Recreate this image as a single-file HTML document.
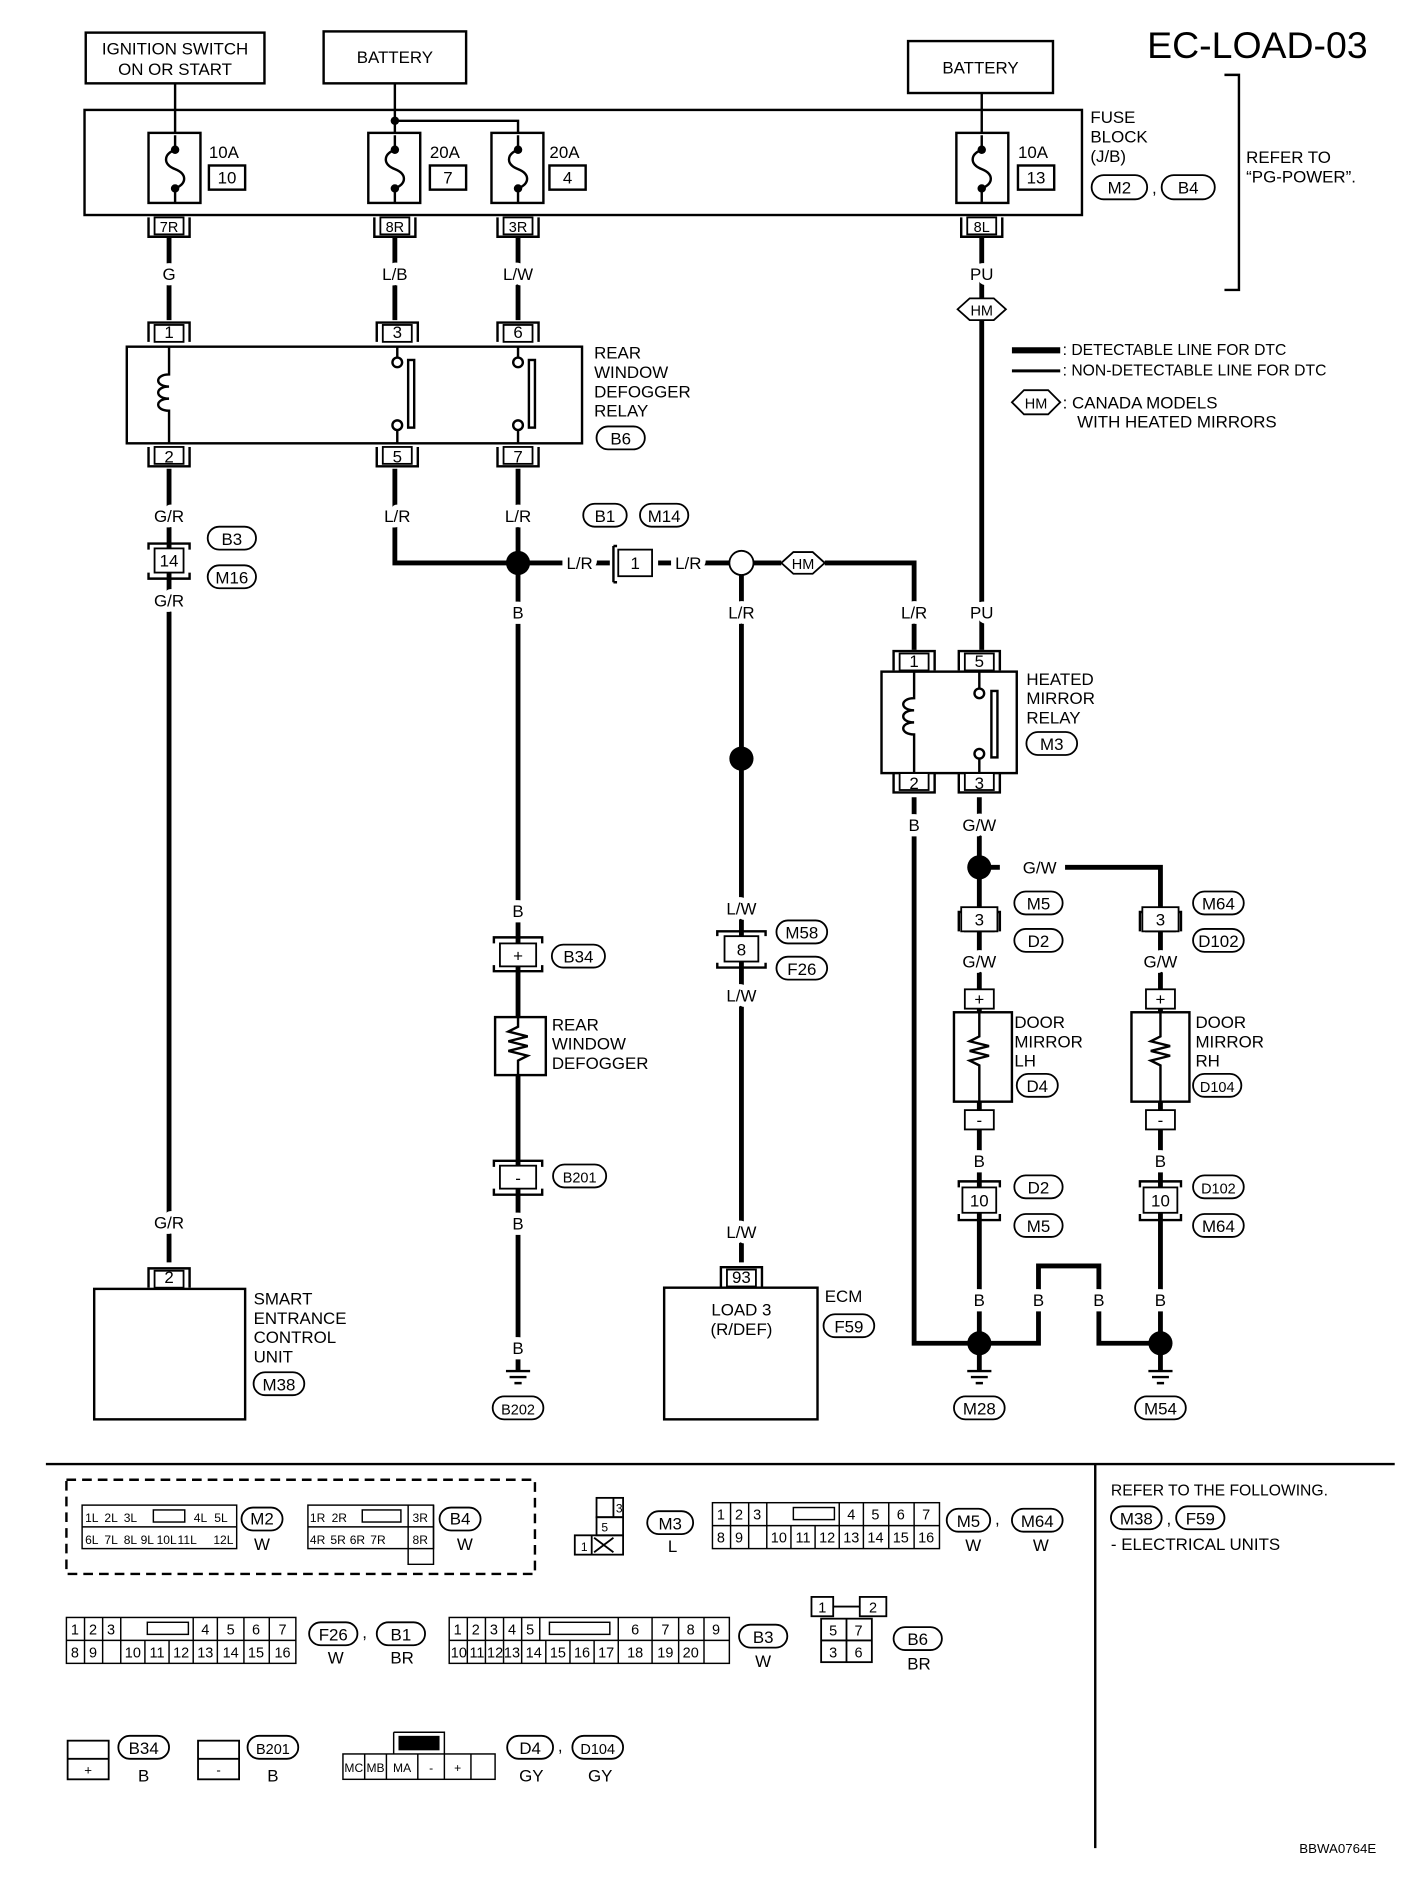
<!DOCTYPE html>
<html><head><meta charset="utf-8"><style>
html,body{margin:0;padding:0;background:#fff;}
svg{display:block;}
text{font-family:"Liberation Sans",Arial,sans-serif;fill:#000;}
text.wl,.wl text{paint-order:stroke;stroke:#fff;stroke-width:9px;stroke-linejoin:round;}
</style></head><body>
<svg width="1408" height="1882" viewBox="0 0 1166 1558" preserveAspectRatio="none" xmlns="http://www.w3.org/2000/svg">
<defs>
<g id="conT"><path d="M-17,0 v-16 h34 v16" fill="none" stroke="#000" stroke-width="2"/><rect x="-12" y="-14" width="24" height="14" fill="#fff" stroke="#000" stroke-width="1.5"/></g>
<g id="conB"><path d="M-17,0 v16 h34 v-16" fill="none" stroke="#000" stroke-width="2"/><rect x="-12" y="0" width="24" height="14" fill="#fff" stroke="#000" stroke-width="1.5"/></g>
</defs>
<g font-size="14">
<text x="950" y="48" font-size="31">EC-LOAD-03</text>
<path d="M1014,62 h12 v178 h-12" fill="none" stroke="#000" stroke-width="2"/>
<text x="1032" y="135">REFER TO</text><text x="1032" y="151">“PG-POWER”.</text>

<rect x="71" y="27" width="148" height="42" fill="none" stroke="#000" stroke-width="2"/>
<text x="145" y="45" text-anchor="middle">IGNITION SWITCH</text><text x="145" y="62" text-anchor="middle">ON OR START</text>
<rect x="268" y="26" width="118" height="43" fill="none" stroke="#000" stroke-width="2"/>
<text x="327" y="52" text-anchor="middle">BATTERY</text>
<rect x="752" y="34" width="120" height="43" fill="none" stroke="#000" stroke-width="2"/>
<text x="812" y="61" text-anchor="middle">BATTERY</text>

<rect x="70" y="91" width="826" height="87" fill="none" stroke="#000" stroke-width="2"/>
<text x="903" y="102">FUSE</text><text x="903" y="118">BLOCK</text><text x="903" y="134">(J/B)</text>
<rect x="904" y="145" width="46" height="20" rx="10" fill="none" stroke="#000" stroke-width="1.5"/><text x="927" y="160" text-anchor="middle">M2</text>
<text x="954" y="160">,</text>
<rect x="962" y="145" width="44" height="20" rx="10" fill="none" stroke="#000" stroke-width="1.5"/><text x="984" y="160" text-anchor="middle">B4</text>

<g stroke="#000" stroke-width="2" fill="none">
<path d="M145,69 V110"/><path d="M327,69 V100 H429 V110"/><path d="M327,100 V110"/><path d="M813,77 V110"/>
<rect x="123" y="110" width="43" height="58"/><rect x="305" y="110" width="43" height="58"/><rect x="407" y="110" width="43" height="58"/><rect x="792" y="110" width="43" height="58"/>
<path d="M145,112 V124 c-10,4 -10,12 0,16 c10,4 10,12 0,16 V168"/>
<path d="M327,112 V124 c-10,4 -10,12 0,16 c10,4 10,12 0,16 V168"/>
<path d="M429,112 V124 c-10,4 -10,12 0,16 c10,4 10,12 0,16 V168"/>
<path d="M813,112 V124 c-10,4 -10,12 0,16 c10,4 10,12 0,16 V168"/>
<rect x="173" y="137" width="30" height="20"/><rect x="356" y="137" width="30" height="20"/><rect x="455" y="137" width="30" height="20"/><rect x="843" y="137" width="30" height="20"/>
</g>
<g fill="#000"><circle cx="145" cy="124" r="3.5"/><circle cx="145" cy="156" r="3.5"/><circle cx="327" cy="124" r="3.5"/><circle cx="327" cy="156" r="3.5"/><circle cx="429" cy="124" r="3.5"/><circle cx="429" cy="156" r="3.5"/><circle cx="813" cy="124" r="3.5"/><circle cx="813" cy="156" r="3.5"/><circle cx="327" cy="100" r="3.5"/></g>
<text x="173" y="131">10A</text><text x="188" y="152" text-anchor="middle">10</text>
<text x="356" y="131">20A</text><text x="371" y="152" text-anchor="middle">7</text>
<text x="455" y="131">20A</text><text x="470" y="152" text-anchor="middle">4</text>
<text x="843" y="131">10A</text><text x="858" y="152" text-anchor="middle">13</text>

<g stroke="#000" stroke-width="4" fill="none">
<path d="M140,197 V265"/><path d="M140,388 V1045"/>
<path d="M327,197 V265"/><path d="M327,388 V466 H429"/>
<path d="M429,197 V265"/><path d="M429,388 V1135"/>
<path d="M429,466 H505"/><path d="M545,466 H604"/><path d="M624,466 H647"/><path d="M683,466 H757 V538"/>
<path d="M614,476 V1045"/>
<path d="M813,197 V538"/>
<path d="M757,660 V1112 H811"/>
<path d="M811,660 V1135"/><path d="M811,718 H961 V1135"/>
<path d="M811,1112 H860 V1048 H910 V1112 H961"/>
</g>

<use href="#conB" x="140" y="180"/><use href="#conB" x="327" y="180"/><use href="#conB" x="429" y="180"/><use href="#conB" x="813" y="180"/>
<text x="140" y="192" text-anchor="middle" font-size="12">7R</text><text x="327" y="192" text-anchor="middle" font-size="12">8R</text><text x="429" y="192" text-anchor="middle" font-size="12">3R</text><text x="813" y="192" text-anchor="middle" font-size="12">8L</text>

<g font-size="14" text-anchor="middle" class="wl">
<text x="140" y="232">G</text><text x="327" y="232">L/B</text><text x="429" y="232">L/W</text><text x="813" y="232">PU</text>
</g>
<polygon points="793,256 803,247 823,247 833,256 823,265 803,265" fill="#fff" stroke="#000" stroke-width="1.5"/><text x="813" y="261" text-anchor="middle" font-size="12">HM</text>

<path d="M838,290 H878" stroke="#000" stroke-width="5"/><text x="880" y="294" font-size="13">: DETECTABLE LINE FOR DTC</text>
<path d="M838,307 H878" stroke="#000" stroke-width="2.5"/><text x="880" y="311" font-size="13">: NON-DETECTABLE LINE FOR DTC</text>
<polygon points="838,333 848,323 868,323 878,333 868,343 848,343" fill="#fff" stroke="#000" stroke-width="1.5"/><text x="858" y="338" text-anchor="middle" font-size="12">HM</text>
<text x="880" y="338">: CANADA MODELS</text><text x="892" y="354">WITH HEATED MIRRORS</text>

<use href="#conT" x="140" y="283"/><use href="#conT" x="329" y="283"/><use href="#conT" x="429" y="283"/>
<text x="140" y="280" text-anchor="middle">1</text><text x="329" y="280" text-anchor="middle">3</text><text x="429" y="280" text-anchor="middle">6</text>
<rect x="105" y="287" width="377" height="80" fill="none" stroke="#000" stroke-width="2"/>
<g stroke="#000" stroke-width="2" fill="none">
<path d="M140,287 V310 c-12,0 -12,10 0,10 c-12,0 -12,10 0,10 c-12,0 -12,10 0,10 V367"/>
<path d="M329,287 V296 M329,356 V367 M429,287 V296 M429,356 V367"/>
<circle cx="329" cy="300" r="4"/><circle cx="329" cy="352" r="4"/><circle cx="429" cy="300" r="4"/><circle cx="429" cy="352" r="4"/>
</g>
<rect x="338" y="298" width="5" height="56" fill="none" stroke="#000" stroke-width="2"/><rect x="438" y="298" width="5" height="56" fill="none" stroke="#000" stroke-width="2"/>
<use href="#conB" x="140" y="370"/><use href="#conB" x="329" y="370"/><use href="#conB" x="429" y="370"/>
<text x="140" y="383" text-anchor="middle">2</text><text x="329" y="383" text-anchor="middle">5</text><text x="429" y="383" text-anchor="middle">7</text>
<text x="492" y="297">REAR</text><text x="492" y="313">WINDOW</text><text x="492" y="329">DEFOGGER</text><text x="492" y="345">RELAY</text>
<rect x="494" y="353" width="40" height="19" rx="9.5" fill="none" stroke="#000" stroke-width="1.5"/><text x="514" y="368" text-anchor="middle">B6</text>

<g text-anchor="middle" class="wl">
<text x="140" y="432">G/R</text><text x="329" y="432">L/R</text><text x="429" y="432">L/R</text>
<text x="140" y="502">G/R</text>
<text x="429" y="512">B</text>
<text x="480" y="471">L/R</text><text x="570" y="471">L/R</text>
<text x="614" y="512">L/R</text><text x="757" y="512">L/R</text><text x="813" y="512">PU</text>
</g>
<path d="M123,455 v-5 h34 v5 M123,474 v5 h34 v-5" fill="none" stroke="#000" stroke-width="2"/>
<rect x="128" y="454" width="24" height="20" fill="#fff" stroke="#000" stroke-width="1.5"/><text x="140" y="469" text-anchor="middle">14</text>
<rect x="172" y="436" width="40" height="19" rx="9.5" fill="none" stroke="#000" stroke-width="1.5"/><text x="192" y="451" text-anchor="middle">B3</text>
<rect x="172" y="468" width="40" height="19" rx="9.5" fill="none" stroke="#000" stroke-width="1.5"/><text x="192" y="483" text-anchor="middle">M16</text>

<circle cx="429" cy="466" r="10" fill="#000"/>
<path d="M508,452 v30 M508,452 h3 M508,482 h3" stroke="#000" stroke-width="2" fill="none"/>
<rect x="512" y="455" width="28" height="22" fill="#fff" stroke="#000" stroke-width="1.5"/><text x="526" y="471" text-anchor="middle">1</text>
<rect x="483" y="417" width="36" height="19" rx="9.5" fill="none" stroke="#000" stroke-width="1.5"/><text x="501" y="432" text-anchor="middle">B1</text>
<rect x="530" y="417" width="40" height="19" rx="9.5" fill="none" stroke="#000" stroke-width="1.5"/><text x="550" y="432" text-anchor="middle">M14</text>
<circle cx="614" cy="466" r="10" fill="#fff" stroke="#000" stroke-width="1.5"/>
<polygon points="647,466 657,457 673,457 683,466 673,475 657,475" fill="#fff" stroke="#000" stroke-width="1.5"/><text x="665" y="471" text-anchor="middle" font-size="12">HM</text>
<circle cx="614" cy="628" r="10" fill="#000"/>

<use href="#conT" x="757" y="555"/><use href="#conT" x="811" y="555"/>
<text x="757" y="552" text-anchor="middle">1</text><text x="811" y="552" text-anchor="middle">5</text>
<rect x="730" y="556" width="112" height="84" fill="none" stroke="#000" stroke-width="2"/>
<g stroke="#000" stroke-width="2" fill="none">
<path d="M757,556 V578 c-12,0 -12,10 0,10 c-12,0 -12,10 0,10 c-12,0 -12,10 0,10 V640"/>
<path d="M811,556 V570 M811,628 V640"/><circle cx="811" cy="574" r="4"/><circle cx="811" cy="624" r="4"/>
</g>
<rect x="821" y="572" width="5" height="55" fill="none" stroke="#000" stroke-width="2"/>
<use href="#conB" x="757" y="640"/><use href="#conB" x="811" y="640"/>
<text x="757" y="653" text-anchor="middle">2</text><text x="811" y="653" text-anchor="middle">3</text>
<text x="850" y="567">HEATED</text><text x="850" y="583">MIRROR</text><text x="850" y="599">RELAY</text>
<rect x="850" y="606" width="42" height="19" rx="9.5" fill="none" stroke="#000" stroke-width="1.5"/><text x="871" y="621" text-anchor="middle">M3</text>
<g text-anchor="middle" class="wl"><text x="757" y="688">B</text><text x="811" y="688">G/W</text></g>
<circle cx="811" cy="718" r="10" fill="#000"/>
<rect x="828" y="711" width="54" height="14" fill="#fff"/><text x="847" y="723">G/W</text>

<use href="#conT" x="811" y="771"/><use href="#conT" x="961" y="771"/>
<rect x="796" y="751" width="30" height="20" fill="#fff" stroke="#000" stroke-width="1.5"/><text x="811" y="766" text-anchor="middle">3</text>
<rect x="946" y="751" width="30" height="20" fill="#fff" stroke="#000" stroke-width="1.5"/><text x="961" y="766" text-anchor="middle">3</text>
<rect x="840" y="738" width="40" height="19" rx="9.5" fill="none" stroke="#000" stroke-width="1.5"/><text x="860" y="753" text-anchor="middle">M5</text>
<rect x="840" y="769" width="40" height="19" rx="9.5" fill="none" stroke="#000" stroke-width="1.5"/><text x="860" y="784" text-anchor="middle">D2</text>
<rect x="988" y="738" width="42" height="19" rx="9.5" fill="none" stroke="#000" stroke-width="1.5"/><text x="1009" y="753" text-anchor="middle">M64</text>
<rect x="988" y="769" width="42" height="19" rx="9.5" fill="none" stroke="#000" stroke-width="1.5"/><text x="1009" y="784" text-anchor="middle">D102</text>
<g text-anchor="middle" class="wl"><text x="811" y="801">G/W</text><text x="961" y="801">G/W</text></g>

<g>
<rect x="799" y="819" width="24" height="16" fill="#fff" stroke="#000" stroke-width="1.5"/><text x="811" y="832" text-anchor="middle">+</text>
<rect x="790" y="838" width="48" height="74" fill="#fff" stroke="#000" stroke-width="2"/>
<path d="M811,838 V858 l-8,4 l16,4 l-16,4 l16,4 l-16,4 l8,4 V912" fill="none" stroke="#000" stroke-width="2"/>
<rect x="799" y="919" width="24" height="16" fill="#fff" stroke="#000" stroke-width="1.5"/><text x="811" y="932" text-anchor="middle">-</text>
<rect x="949" y="819" width="24" height="16" fill="#fff" stroke="#000" stroke-width="1.5"/><text x="961" y="832" text-anchor="middle">+</text>
<rect x="937" y="838" width="48" height="74" fill="#fff" stroke="#000" stroke-width="2"/>
<path d="M961,838 V858 l-8,4 l16,4 l-16,4 l16,4 l-16,4 l8,4 V912" fill="none" stroke="#000" stroke-width="2"/>
<rect x="949" y="919" width="24" height="16" fill="#fff" stroke="#000" stroke-width="1.5"/><text x="961" y="932" text-anchor="middle">-</text>
</g>
<text x="840" y="851">DOOR</text><text x="840" y="867">MIRROR</text><text x="840" y="883">LH</text>
<rect x="842" y="889" width="34" height="19" rx="9.5" fill="none" stroke="#000" stroke-width="1.5"/><text x="859" y="904" text-anchor="middle">D4</text>
<text x="990" y="851">DOOR</text><text x="990" y="867">MIRROR</text><text x="990" y="883">RH</text>
<rect x="988" y="889" width="40" height="19" rx="9.5" fill="none" stroke="#000" stroke-width="1.5"/><text x="1008" y="904" text-anchor="middle" font-size="12">D104</text>
<g text-anchor="middle" class="wl"><text x="811" y="966">B</text><text x="961" y="966">B</text></g>
<path d="M794,983 v-5 h34 v5 M794,1005 v5 h34 v-5 M944,983 v-5 h34 v5 M944,1005 v5 h34 v-5" fill="none" stroke="#000" stroke-width="2"/>
<rect x="797" y="983" width="28" height="21" fill="#fff" stroke="#000" stroke-width="1.5"/><text x="811" y="999" text-anchor="middle">10</text>
<rect x="947" y="983" width="28" height="21" fill="#fff" stroke="#000" stroke-width="1.5"/><text x="961" y="999" text-anchor="middle">10</text>
<rect x="840" y="973" width="40" height="19" rx="9.5" fill="none" stroke="#000" stroke-width="1.5"/><text x="860" y="988" text-anchor="middle">D2</text>
<rect x="840" y="1005" width="40" height="19" rx="9.5" fill="none" stroke="#000" stroke-width="1.5"/><text x="860" y="1020" text-anchor="middle">M5</text>
<rect x="988" y="973" width="42" height="19" rx="9.5" fill="none" stroke="#000" stroke-width="1.5"/><text x="1009" y="988" text-anchor="middle" font-size="12">D102</text>
<rect x="988" y="1005" width="42" height="19" rx="9.5" fill="none" stroke="#000" stroke-width="1.5"/><text x="1009" y="1020" text-anchor="middle">M64</text>
<g text-anchor="middle" class="wl"><text x="811" y="1081">B</text><text x="860" y="1081">B</text><text x="910" y="1081">B</text><text x="961" y="1081">B</text></g>
<circle cx="811" cy="1112" r="10" fill="#000"/><circle cx="961" cy="1112" r="10" fill="#000"/>

<g stroke="#000" stroke-width="2">
<path d="M419,1135 h20 M422,1140 h14 M426,1145 h6"/>
<path d="M801,1135 h20 M804,1140 h14 M808,1145 h6"/>
<path d="M951,1135 h20 M954,1140 h14 M958,1145 h6"/>
</g>
<rect x="408" y="1156" width="42" height="19" rx="9.5" fill="none" stroke="#000" stroke-width="1.5"/><text x="429" y="1171" text-anchor="middle" font-size="12">B202</text>
<rect x="790" y="1156" width="42" height="19" rx="9.5" fill="none" stroke="#000" stroke-width="1.5"/><text x="811" y="1171" text-anchor="middle">M28</text>
<rect x="940" y="1156" width="42" height="19" rx="9.5" fill="none" stroke="#000" stroke-width="1.5"/><text x="961" y="1171" text-anchor="middle">M54</text>

<text x="429" y="759" text-anchor="middle" class="wl">B</text>
<path d="M409,781 v-5 h40 v5 M409,799 v5 h40 v-5 M409,966 v-5 h40 v5 M409,984 v5 h40 v-5" fill="none" stroke="#000" stroke-width="2"/>
<rect x="414" y="781" width="30" height="19" fill="#fff" stroke="#000" stroke-width="1.5"/><text x="429" y="796" text-anchor="middle">+</text>
<rect x="457" y="782" width="44" height="19" rx="9.5" fill="none" stroke="#000" stroke-width="1.5"/><text x="479" y="797" text-anchor="middle">B34</text>
<rect x="410" y="842" width="42" height="48" fill="#fff" stroke="#000" stroke-width="2"/>
<path d="M429,842 V850 l-8,4 l16,4 l-16,4 l16,4 l-16,4 l16,4 l-8,4 V890" fill="none" stroke="#000" stroke-width="2"/>
<text x="457" y="853">REAR</text><text x="457" y="869">WINDOW</text><text x="457" y="885">DEFOGGER</text>
<rect x="414" y="965" width="30" height="19" fill="#fff" stroke="#000" stroke-width="1.5"/><text x="429" y="980" text-anchor="middle">-</text>
<rect x="458" y="964" width="44" height="19" rx="9.5" fill="none" stroke="#000" stroke-width="1.5"/><text x="480" y="979" text-anchor="middle" font-size="12">B201</text>
<text x="429" y="1018" text-anchor="middle" class="wl">B</text><text x="429" y="1121" text-anchor="middle" class="wl">B</text>

<text x="614" y="757" text-anchor="middle" class="wl">L/W</text>
<path d="M594,775 v-4 h40 v4 M594,797 v4 h40 v-4" fill="none" stroke="#000" stroke-width="2"/>
<rect x="600" y="775" width="28" height="21" fill="#fff" stroke="#000" stroke-width="1.5"/><text x="614" y="791" text-anchor="middle">8</text>
<rect x="643" y="762" width="42" height="19" rx="9.5" fill="none" stroke="#000" stroke-width="1.5"/><text x="664" y="777" text-anchor="middle">M58</text>
<rect x="643" y="792" width="42" height="19" rx="9.5" fill="none" stroke="#000" stroke-width="1.5"/><text x="664" y="807" text-anchor="middle">F26</text>
<text x="614" y="829" text-anchor="middle" class="wl">L/W</text><text x="614" y="1025" text-anchor="middle" class="wl">L/W</text>
<use href="#conT" x="614" y="1065"/><text x="614" y="1062" text-anchor="middle">93</text>
<rect x="550" y="1066" width="127" height="109" fill="none" stroke="#000" stroke-width="2"/>
<text x="614" y="1089" text-anchor="middle">LOAD 3</text><text x="614" y="1105" text-anchor="middle">(R/DEF)</text>
<text x="683" y="1078">ECM</text>
<rect x="682" y="1088" width="42" height="19" rx="9.5" fill="none" stroke="#000" stroke-width="1.5"/><text x="703" y="1103" text-anchor="middle">F59</text>

<text x="140" y="1017" text-anchor="middle" class="wl">G/R</text>
<use href="#conT" x="140" y="1066"/><text x="140" y="1062" text-anchor="middle">2</text>
<rect x="78" y="1067" width="125" height="108" fill="none" stroke="#000" stroke-width="2"/>
<text x="210" y="1080">SMART</text><text x="210" y="1096">ENTRANCE</text><text x="210" y="1112">CONTROL</text><text x="210" y="1128">UNIT</text>
<rect x="210" y="1136" width="42" height="19" rx="9.5" fill="none" stroke="#000" stroke-width="1.5"/><text x="231" y="1151" text-anchor="middle">M38</text>

<path d="M38,1212 H1155 M907,1212 V1530" stroke="#000" stroke-width="2"/>
<text x="920" y="1238" font-size="13">REFER TO THE FOLLOWING.</text>
<rect x="920" y="1247" width="42" height="19" rx="9.5" fill="none" stroke="#000" stroke-width="1.5"/><text x="941" y="1262" text-anchor="middle">M38</text>
<text x="966" y="1262">,</text>
<rect x="974" y="1247" width="40" height="19" rx="9.5" fill="none" stroke="#000" stroke-width="1.5"/><text x="994" y="1262" text-anchor="middle">F59</text>
<text x="920" y="1283">- ELECTRICAL UNITS</text>
<text x="1076" y="1534" font-size="11">BBWA0764E</text>

<rect x="55" y="1225" width="388" height="78" fill="none" stroke="#000" stroke-width="2" stroke-dasharray="8,5"/>
<g font-size="10" text-anchor="middle" stroke-width="1.2">
<g fill="none" stroke="#000"><rect x="68" y="1246" width="128" height="36"/><path d="M68,1264 H196"/></g>
<text x="76" y="1260">1L</text><text x="92" y="1260">2L</text><text x="108" y="1260">3L</text><rect x="127" y="1250" width="26" height="10" fill="none" stroke="#000"/><text x="166" y="1260">4L</text><text x="183" y="1260">5L</text>
<text x="76" y="1278">6L</text><text x="92" y="1278">7L</text><text x="108" y="1278">8L</text><text x="122" y="1278">9L</text><text x="138" y="1278">10L</text><text x="155" y="1278">11L</text><text x="185" y="1278">12L</text>
<g fill="none" stroke="#000"><rect x="255" y="1246" width="104" height="36"/><path d="M255,1264 H359 M338,1246 V1295 H359 V1246"/></g>
<text x="263" y="1260">1R</text><text x="281" y="1260">2R</text><rect x="300" y="1250" width="32" height="10" fill="none" stroke="#000"/><text x="348" y="1260">3R</text>
<text x="263" y="1278">4R</text><text x="280" y="1278">5R</text><text x="296" y="1278">6R</text><text x="313" y="1278">7R</text><text x="348" y="1278">8R</text>
</g>
<rect x="200" y="1248" width="34" height="19" rx="9.5" fill="none" stroke="#000" stroke-width="1.5"/><text x="217" y="1262" text-anchor="middle">M2</text><text x="217" y="1283" text-anchor="middle">W</text>
<rect x="364" y="1248" width="34" height="19" rx="9.5" fill="none" stroke="#000" stroke-width="1.5"/><text x="381" y="1262" text-anchor="middle">B4</text><text x="385" y="1283" text-anchor="middle">W</text>

<g fill="none" stroke="#000" stroke-width="1.5"><rect x="494" y="1240" width="22" height="16"/><rect x="494" y="1256" width="22" height="15"/><rect x="476" y="1271" width="40" height="16"/><path d="M490,1271 V1287 M508,1240 V1256 M492,1273 l16,12 M508,1273 l-16,12"/></g>
<text x="498" y="1268" font-size="10">5</text><text x="510" y="1252" font-size="10">3</text><text x="481" y="1284" font-size="10">1</text>
<rect x="536" y="1251" width="38" height="19" rx="9.5" fill="none" stroke="#000" stroke-width="1.5"/><text x="555" y="1266" text-anchor="middle">M3</text><text x="557" y="1285" text-anchor="middle">L</text>

<g fill="none" stroke="#000" stroke-width="1.2"><rect x="590" y="1244" width="188" height="38"/><path d="M590,1263 H778 M605,1244 V1282 M620,1244 V1282 M635,1244 V1282 M655,1263 V1282 M675,1263 V1282 M695,1244 V1282 M715,1244 V1282 M736,1244 V1282 M757,1244 V1282"/><rect x="657" y="1248" width="34" height="10"/></g>
<g font-size="12" text-anchor="middle"><text x="597" y="1258">1</text><text x="612" y="1258">2</text><text x="627" y="1258">3</text><text x="705" y="1258">4</text><text x="725" y="1258">5</text><text x="746" y="1258">6</text><text x="767" y="1258">7</text>
<text x="597" y="1277">8</text><text x="612" y="1277">9</text><text x="645" y="1277">10</text><text x="665" y="1277">11</text><text x="685" y="1277">12</text><text x="705" y="1277">13</text><text x="725" y="1277">14</text><text x="746" y="1277">15</text><text x="767" y="1277">16</text></g>
<rect x="784" y="1249" width="36" height="19" rx="9.5" fill="none" stroke="#000" stroke-width="1.5"/><text x="802" y="1264" text-anchor="middle">M5</text><text x="824" y="1262">,</text><text x="806" y="1284" text-anchor="middle">W</text>
<rect x="838" y="1249" width="42" height="19" rx="9.5" fill="none" stroke="#000" stroke-width="1.5"/><text x="859" y="1264" text-anchor="middle">M64</text><text x="862" y="1284" text-anchor="middle">W</text>

<g fill="none" stroke="#000" stroke-width="1.2"><rect x="55" y="1339" width="190" height="38"/><path d="M55,1358 H245 M70,1339 V1377 M85,1339 V1377 M100,1339 V1377 M120,1358 V1377 M140,1358 V1377 M160,1339 V1377 M180,1339 V1377 M202,1339 V1377 M223,1339 V1377"/><rect x="122" y="1343" width="34" height="10"/></g>
<g font-size="12" text-anchor="middle"><text x="62" y="1353">1</text><text x="77" y="1353">2</text><text x="92" y="1353">3</text><text x="170" y="1353">4</text><text x="191" y="1353">5</text><text x="212" y="1353">6</text><text x="234" y="1353">7</text>
<text x="62" y="1372">8</text><text x="77" y="1372">9</text><text x="110" y="1372">10</text><text x="130" y="1372">11</text><text x="150" y="1372">12</text><text x="170" y="1372">13</text><text x="191" y="1372">14</text><text x="212" y="1372">15</text><text x="234" y="1372">16</text></g>
<rect x="256" y="1343" width="40" height="19" rx="9.5" fill="none" stroke="#000" stroke-width="1.5"/><text x="276" y="1358" text-anchor="middle">F26</text><text x="300" y="1356">,</text><text x="278" y="1377" text-anchor="middle">W</text>
<rect x="312" y="1343" width="40" height="19" rx="9.5" fill="none" stroke="#000" stroke-width="1.5"/><text x="332" y="1358" text-anchor="middle">B1</text><text x="333" y="1377" text-anchor="middle">BR</text>

<g fill="none" stroke="#000" stroke-width="1.2"><rect x="372" y="1339" width="232" height="38"/><path d="M372,1358 H604 M387,1339 V1377 M402,1339 V1377 M417,1339 V1377 M432,1339 V1377 M447,1339 V1358 M452,1358 V1377 M472,1358 V1377 M492,1358 V1377 M512,1339 V1377 M540,1339 V1377 M562,1339 V1377 M583,1339 V1377 M432,1358 V1377"/><rect x="455" y="1343" width="50" height="10"/></g>
<g font-size="12" text-anchor="middle"><text x="379" y="1353">1</text><text x="394" y="1353">2</text><text x="409" y="1353">3</text><text x="424" y="1353">4</text><text x="439" y="1353">5</text><text x="526" y="1353">6</text><text x="551" y="1353">7</text><text x="572" y="1353">8</text><text x="593" y="1353">9</text>
<text x="380" y="1372">10</text><text x="395" y="1372">11</text><text x="410" y="1372">12</text><text x="424" y="1372">13</text><text x="442" y="1372">14</text><text x="462" y="1372">15</text><text x="482" y="1372">16</text><text x="502" y="1372">17</text><text x="526" y="1372">18</text><text x="551" y="1372">19</text><text x="572" y="1372">20</text></g>
<rect x="612" y="1345" width="40" height="19" rx="9.5" fill="none" stroke="#000" stroke-width="1.5"/><text x="632" y="1360" text-anchor="middle">B3</text><text x="632" y="1380" text-anchor="middle">W</text>

<g fill="none" stroke="#000" stroke-width="1.5"><rect x="672" y="1322" width="18" height="16"/><rect x="712" y="1322" width="22" height="16"/><path d="M690,1330 H712"/><rect x="680" y="1340" width="42" height="36"/><path d="M680,1358 H722 M701,1340 V1376"/></g>
<g font-size="12" text-anchor="middle"><text x="681" y="1335">1</text><text x="723" y="1335">2</text><text x="690" y="1354">5</text><text x="711" y="1354">7</text><text x="690" y="1372">3</text><text x="711" y="1372">6</text></g>
<rect x="740" y="1347" width="40" height="19" rx="9.5" fill="none" stroke="#000" stroke-width="1.5"/><text x="760" y="1362" text-anchor="middle">B6</text><text x="761" y="1382" text-anchor="middle">BR</text>

<g fill="none" stroke="#000" stroke-width="1.5"><rect x="56" y="1441" width="34" height="32"/><path d="M56,1456 H90"/><rect x="164" y="1441" width="34" height="32"/><path d="M164,1456 H198"/></g>
<text x="73" y="1469" text-anchor="middle" font-size="11">+</text><text x="181" y="1469" text-anchor="middle" font-size="11">-</text>
<rect x="98" y="1437" width="42" height="19" rx="9.5" fill="none" stroke="#000" stroke-width="1.5"/><text x="119" y="1452" text-anchor="middle">B34</text><text x="119" y="1475" text-anchor="middle">B</text>
<rect x="205" y="1437" width="42" height="19" rx="9.5" fill="none" stroke="#000" stroke-width="1.5"/><text x="226" y="1452" text-anchor="middle" font-size="12">B201</text><text x="226" y="1475" text-anchor="middle">B</text>

<g fill="none" stroke="#000" stroke-width="1.2"><rect x="284" y="1452" width="126" height="21"/><path d="M302,1452 V1473 M320,1452 V1473 M346,1452 V1473 M368,1452 V1473 M390,1452 V1473 M326,1434 H368 V1452 M326,1434 V1452"/></g>
<rect x="330" y="1437" width="34" height="12" fill="#000"/>
<g font-size="10" text-anchor="middle"><text x="293" y="1467">MC</text><text x="311" y="1467">MB</text><text x="333" y="1467">MA</text><text x="357" y="1467">-</text><text x="379" y="1467">+</text></g>
<rect x="420" y="1437" width="38" height="19" rx="9.5" fill="none" stroke="#000" stroke-width="1.5"/><text x="439" y="1452" text-anchor="middle">D4</text><text x="462" y="1450">,</text><text x="440" y="1475" text-anchor="middle">GY</text>
<rect x="474" y="1437" width="42" height="19" rx="9.5" fill="none" stroke="#000" stroke-width="1.5"/><text x="495" y="1452" text-anchor="middle" font-size="12">D104</text><text x="497" y="1475" text-anchor="middle">GY</text>
</g>
</svg>
</body></html>
